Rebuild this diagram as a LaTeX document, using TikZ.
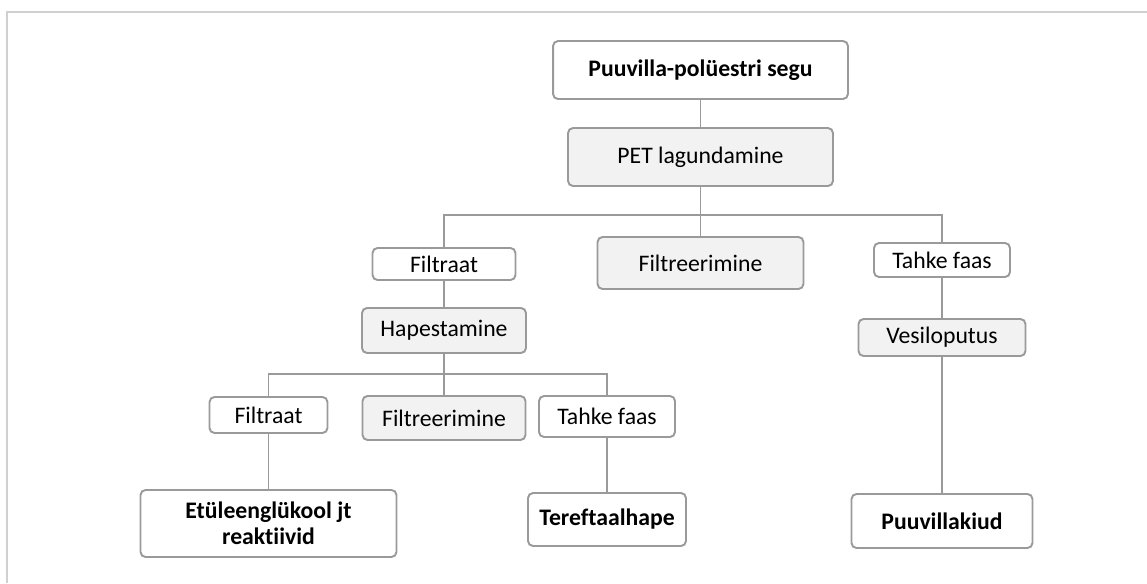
\documentclass[tikz,border=0pt]{standalone}
\usepackage{fontspec}
\setmainfont{Carlito}[Ligatures=NoCommon]
\usepackage{xcolor}
\usepackage{tikz}
\usetikzlibrary{positioning}

\definecolor{boxline}{HTML}{9A9A9A}
\definecolor{boxfill}{HTML}{F2F2F2}
\definecolor{frameline}{HTML}{D0D0D0}

\begin{document}
\begin{tikzpicture}[x=0.02cm, y=-0.02cm,
  box/.style={draw=boxline, line width=1.1pt, rounded corners=0.1cm, fill=white,
    inner sep=0pt, align=center, font=\fontsize{13.5}{14.6}\selectfont},
  greybox/.style={box, fill=boxfill},
  result/.style={box, font=\fontsize{13.5}{14.6}\selectfont\bfseries},
  link/.style={draw=boxline, line width=1pt}]
\useasboundingbox (0,0) rectangle (1147,583);
% Frame
\draw[frameline, line width=0.8pt] (7,583) -- (7,12) -- (1147,12);

% Top level
\node[result, minimum width=5.9cm, minimum height=1.16cm] (mix) at (700.5,70) {Puuvilla-polüestri segu};
\node[greybox, minimum width=5.3cm, minimum height=1.16cm] (pet) at (700.5,157) {PET lagundamine};

% First split
\node[box, minimum width=2.86cm, minimum height=0.64cm] (filtA) at (444,264) {Filtraat};
\node[greybox, minimum width=4.12cm, minimum height=1.04cm] (filtrA) at (700.5,263) {Filtreerimine};
\node[box, minimum width=2.72cm, minimum height=0.68cm] (tahkeA) at (942,260) {Tahke faas};
\node[greybox, minimum width=3.28cm, minimum height=0.9cm] (hape) at (444,330.5) {Hapestamine};
\node[greybox, minimum width=3.34cm, minimum height=0.74cm] (vesi) at (942,337.5) {Vesiloputus};

% Second split
\node[box, minimum width=2.36cm, minimum height=0.72cm] (filtB) at (268.5,415) {Filtraat};
\node[greybox, minimum width=3.26cm, minimum height=0.88cm] (filtrB) at (444,418) {Filtreerimine};
\node[box, minimum width=2.72cm, minimum height=0.82cm] (tahkeB) at (607,416.5) {Tahke faas};

% Products
\node[result, minimum width=5.12cm, minimum height=1.34cm] (ety) at (268.5,523.5) {Etüleenglükool jt\\reaktiivid};
\node[result, minimum width=3.16cm, minimum height=1.06cm] (tere) at (607,519.5) {Tereftaalhape};
\node[result, minimum width=3.62cm, minimum height=1.08cm] (kiud) at (942,521) {Puuvillakiud};

% Connectors
\coordinate (busA) at (700.5,215);
\coordinate (busB) at (444,374);
\draw[link] (mix) -- (pet);
\draw[link] (pet) -- (filtrA);
\draw[link] (filtA.north) |- (busA) -| (tahkeA.north);
\draw[link] (filtA) -- (hape);
\draw[link] (hape) -- (filtrB);
\draw[link] (filtB.north) |- (busB) -| (tahkeB.north);
\draw[link] (filtB) -- (ety);
\draw[link] (tahkeB) -- (tere);
\draw[link] (tahkeA) -- (vesi);
\draw[link] (vesi) -- (kiud);
\end{tikzpicture}
\end{document}
